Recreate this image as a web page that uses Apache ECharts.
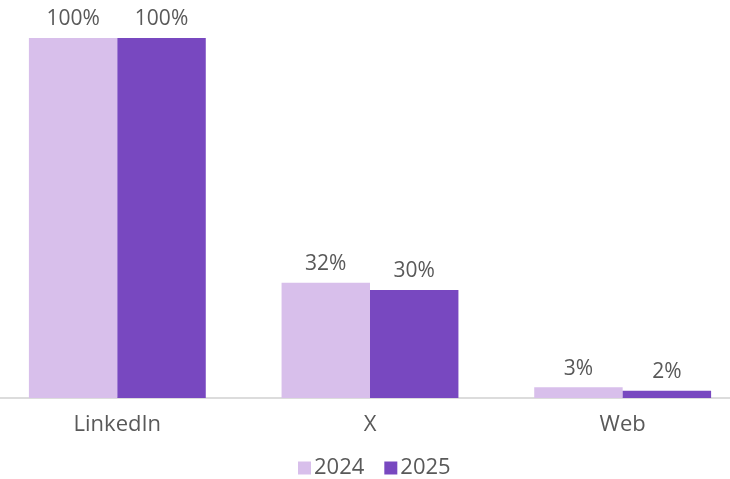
<!DOCTYPE html>
<html>
<head>
<meta charset="utf-8">
<script src="https://cdn.jsdelivr.net/npm/echarts@6/dist/echarts.min.js"></script>
<style>
  html, body { margin: 0; padding: 0; background: #fff; }
  #chart { width: 730px; height: 479px; }
</style>
</head>
<body>
<div id="chart"></div>
<script>
var categories = ['LinkedIn', 'X', 'Web'];
var seriesNames = ['2024', '2025'];
var values2024 = [100, 32, 3];
var values2025 = [100, 30, 2];

var chart = echarts.init(document.getElementById('chart'));
var textColor = '#595959';
var option = {
    animation: false,
    textStyle: { fontFamily: 'Open Sans' },
    legend: {
        data: seriesNames,
        bottom: -5,
        left: 293,
        itemWidth: 13,
        itemHeight: 13,
        itemGap: 20,
        icon: 'rect',
        textStyle: { color: textColor, fontSize: 22, padding: [0, 0, 0, -2] }
    },
    grid: {
        top: 38,
        bottom: 81,
        left: -9,
        right: -19,
        outerBoundsMode: 'none',
        containLabel: false
    },
    xAxis: {
        type: 'category',
        data: categories,
        axisLine: { lineStyle: { color: '#d0d0d0', width: 1.5 } },
        axisTick: { show: false },
        axisLabel: { color: textColor, fontSize: 22, margin: 16 }
    },
    yAxis: {
        type: 'value',
        min: 0,
        max: 100,
        show: false
    },
    series: [
        {
            name: '2024',
            type: 'bar',
            data: values2024,
            barGap: '0%',
            barCategoryGap: '30%',
            itemStyle: { color: '#D8BFEB' },
            label: { show: true, position: 'top', distance: 8, formatter: '{c}%', color: textColor, fontSize: 21 }
        },
        {
            name: '2025',
            type: 'bar',
            data: values2025,
            barGap: '0%',
            barCategoryGap: '30%',
            itemStyle: { color: '#7848C0' },
            label: { show: true, position: 'top', distance: 8, formatter: '{c}%', color: textColor, fontSize: 21 }
        }
    ]
};
chart.setOption(option);
</script>
</body>
</html>
